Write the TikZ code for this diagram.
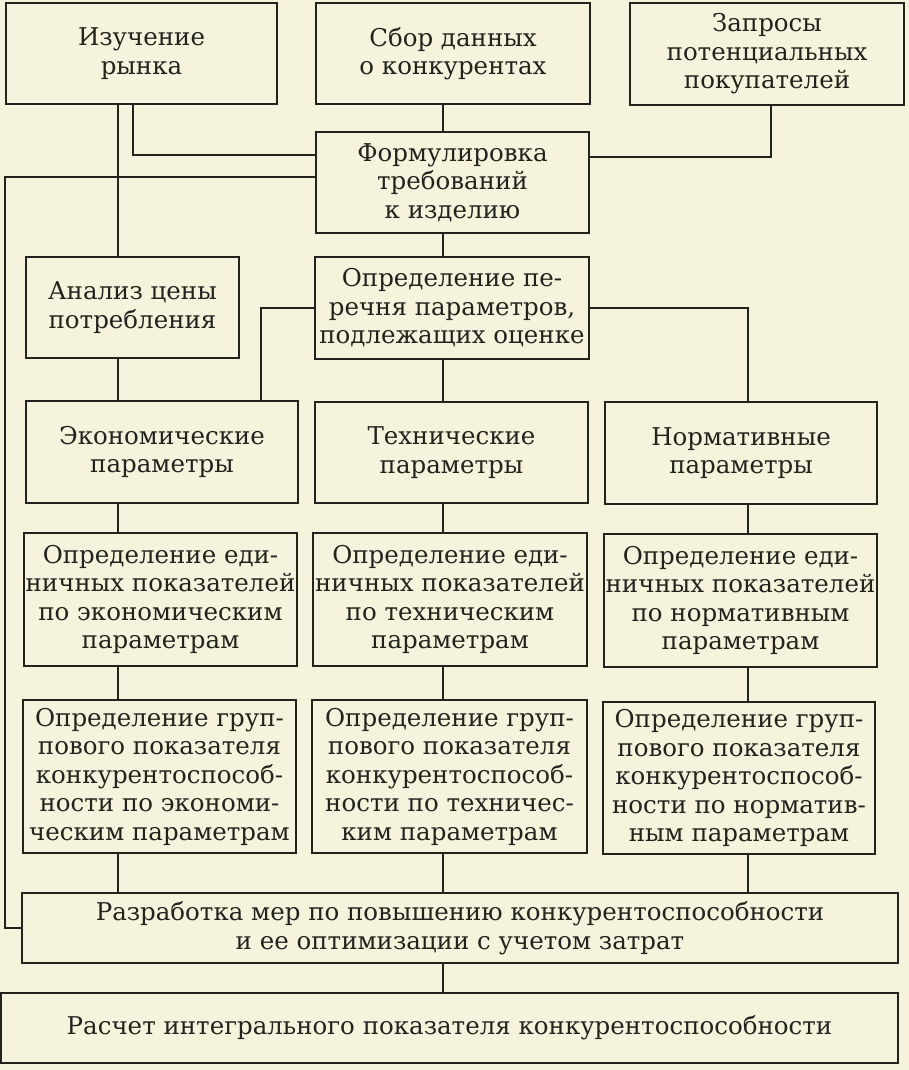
\documentclass[tikz,border=0pt]{standalone}
\usepackage{fontspec}
\setmainfont{DejaVu Serif}
\usetikzlibrary{calc}
\definecolor{paper}{RGB}{246,243,220}
\definecolor{ink}{RGB}{35,35,30}

\begin{document}
\begin{tikzpicture}[x=1pt,y=-1pt,line width=1.8pt,color=ink,
    box/.style={draw,align=center,inner xsep=0pt,inner ysep=1pt,
      font=\fontsize{24.5}{28.5}\selectfont}]
      \useasboundingbox (0,0) rectangle (909,1070);
      \fill[paper] (0,0) rectangle (909,1070);
      % top row
      \node[box,minimum width=271pt,minimum height=101pt] (izu) at (141.5,53.5) {Изучение\\рынка};
      \node[box,minimum width=274pt,minimum height=101pt] (sbor) at (453,53.5) {Сбор данных\\о конкурентах};
      \node[box,minimum width=274pt,minimum height=102pt] (zapr) at (767,54) {Запросы\\потенциальных\\покупателей};
      \node[box,minimum width=273pt,minimum height=101pt] (form) at (452.5,182.5) {Формулировка\\требований\\к изделию};
      \node[box,minimum width=213pt,minimum height=101pt] (anal) at (132.5,307.5) {Анализ цены\\потребления};
      \node[box,minimum width=274pt,minimum height=102pt] (pere) at (452,308) {Определение пе-\\речня параметров,\\подлежащих оценке};
      % parameters
      \node[box,minimum width=272pt,minimum height=102pt] (econ) at (162,452) {Экономические\\параметры};
      \node[box,minimum width=273pt,minimum height=101pt] (tech) at (451.5,452.5) {Технические\\параметры};
      \node[box,minimum width=272pt,minimum height=102pt] (norm) at (741,453) {Нормативные\\параметры};
      % single indices
      \node[box,minimum width=273pt,minimum height=133pt] (edE) at (160.5,599.5) {Определение еди-\\ничных показателей\\по экономическим\\параметрам};
      \node[box,minimum width=274pt,minimum height=133pt] (edT) at (450,599.5) {Определение еди-\\ничных показателей\\по техническим\\параметрам};
      \node[box,minimum width=273pt,minimum height=133pt] (edN) at (740.5,600.5) {Определение еди-\\ничных показателей\\по нормативным\\параметрам};
      % group indices
      \node[box,minimum width=273pt,minimum height=153pt] (grE) at (159.5,776.5) {Определение груп-\\пового показателя\\конкурентоспособ-\\ности по экономи-\\ческим параметрам};
      \node[box,minimum width=275pt,minimum height=153pt] (grT) at (449.5,776.5) {Определение груп-\\пового показателя\\конкурентоспособ-\\ности по техничес-\\ким параметрам};
      \node[box,minimum width=272pt,minimum height=152pt] (grN) at (739,778) {Определение груп-\\пового показателя\\конкурентоспособ-\\ности по норматив-\\ным параметрам};
      % bottom
      \node[box,minimum width=876pt,minimum height=70pt] (razr) at (460,928) {Разработка мер по повышению конкурентоспособности\\и ее оптимизации с учетом затрат};
      \node[box,minimum width=897pt,minimum height=70pt] (rasc) at (449.5,1028) {Расчет интегрального показателя конкурентоспособности};
      % columns
      \coordinate (colA) at (118,0);
      \coordinate (colB) at (443,0);
      \coordinate (colC) at (748,0);
      \coordinate (back) at (5,0);
      % upper lines
      \draw (izu.south -| colA) -- (anal.north -| colA);
      \draw ([xshift=-8.5pt]izu.south) |- ([yshift=27.5pt]form.west);
      \draw ([xshift=4pt]zapr.south) |- ([yshift=25.5pt]form.east);
      \draw (sbor.south -| colB) -- (form.north -| colB);
      \draw (form.south -| colB) -- (pere.north -| colB);
      \draw ([yshift=5.5pt]form.west) -| (back |- razr.west) -- (razr.west);
      % to parameters
      \draw (anal.south -| colA) -- (econ.north -| colA);
      \draw (pere.west) -| ([xshift=99pt]econ.north);
      \draw (pere.south -| colB) -- (tech.north -| colB);
      \draw (pere.east) -| (norm.north -| colC);
      % vertical lines
      \draw (econ.south -| colA) -- (edE.north -| colA);
      \draw (tech.south -| colB) -- (edT.north -| colB);
      \draw (norm.south -| colC) -- (edN.north -| colC);
      \draw (edE.south -| colA) -- (grE.north -| colA);
      \draw (edT.south -| colB) -- (grT.north -| colB);
      \draw (edN.south -| colC) -- (grN.north -| colC);
      \draw (grE.south -| colA) -- (razr.north -| colA);
      \draw (grT.south -| colB) -- (razr.north -| colB);
      \draw (grN.south -| colC) -- (razr.north -| colC);
      \draw (razr.south -| colB) -- (rasc.north -| colB);
    \end{tikzpicture}
\end{document}
